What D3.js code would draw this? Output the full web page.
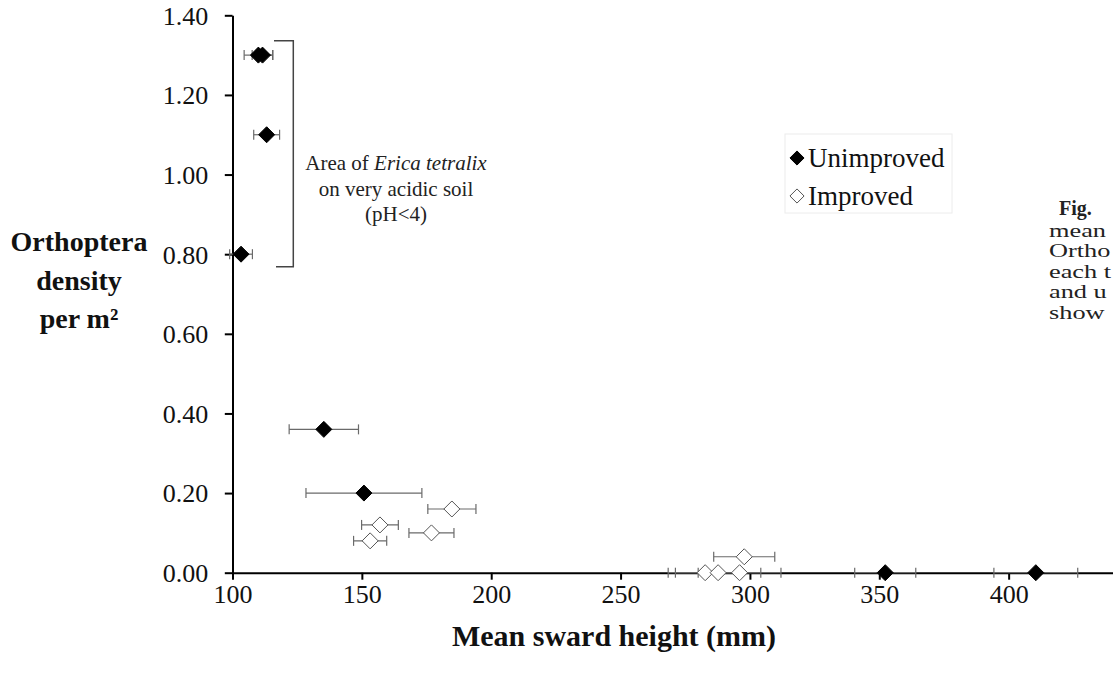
<!DOCTYPE html>
<html>
<head>
<meta charset="utf-8">
<script src="https://cdn.jsdelivr.net/npm/d3@7"></script>
<style>
  body { margin: 0; background: #fff; }
  svg { display: block; font-family: "Liberation Serif", "Times New Roman", serif; }
</style>
</head>
<body>
<div id="scatter"></div>
<script>
// Orthoptera density vs sward height
// ==================================
// Data
var unimpHeight = [110.0, 111.6, 113.2, 103.3, 135.3, 150.8, 352.3, 410.5];
var unimpDensity = [1.30, 1.30, 1.10, 0.80, 0.36, 0.20, 0.00, 0.00];
var unimpErr = [5.5, 4.0, 5.0, 4.4, 13.4, 22.4, 11.8, 16.2];

var impHeight = [184.8, 157.0, 176.9, 153.2, 297.8, 282.7, 287.7, 296.0];
var impDensity = [0.16, 0.12, 0.10, 0.08, 0.04, 0.00, 0.00, 0.00];
var impErr = [9.3, 7.1, 8.7, 6.4, 11.8, 14.3, 16.5, 16.0];

var xTicks = [100, 150, 200, 250, 300, 350, 400];
var yTicks = [0, 0.2, 0.4, 0.6, 0.8, 1.0, 1.2, 1.4];

var legendLabels = ["Unimproved", "Improved"];
var noteLines = ["on very acidic soil", "(pH<4)"];
var sideLines = ["mean", "Ortho", "each t", "and u", "show"];

// Housekeeping
// ============
var width = 1113;
var height = 678;

var svg = d3.select("#scatter")
    .append("svg")
    .attr("width", width)
    .attr("height", height);

// the axis runs on past the right edge of the picture
var x = d3.scaleLinear().domain([100, 450]).range([232.5, 1138]);
var y = d3.scaleLinear().domain([0, 1.4]).range([572.7, 15.3]);

// square turned on its corner, like the original markers
var diamond = {
    draw: function(context, size) {
        var r = Math.sqrt(size / 2);
        context.moveTo(0, -r);
        context.lineTo(r, 0);
        context.lineTo(0, r);
        context.lineTo(-r, 0);
        context.closePath();
    }
};
var marker = d3.symbol().type(diamond).size(128);

// Axes
// ====
var xAxis = svg.append("g")
    .attr("transform", "translate(0," + y(0) + ")")
    .call(d3.axisBottom(x).tickValues(xTicks).tickSize(7).tickSizeOuter(0).tickPadding(5));

var yAxis = svg.append("g")
    .attr("transform", "translate(" + x(100) + ",0)")
    .call(d3.axisLeft(y).tickValues(yTicks).tickSize(7.7).tickSizeOuter(0).tickPadding(16.5)
        .tickFormat(d3.format(".2f")));

[xAxis, yAxis].forEach(function(ax) {
    ax.select(".domain").attr("stroke", "#000").attr("stroke-width", 2);
    ax.selectAll(".tick line").attr("stroke", "#000").attr("stroke-width", 2);
    ax.selectAll(".tick text")
        .attr("font-family", "Liberation Serif, serif")
        .attr("font-size", 26)
        .attr("fill", "#111");
});
yAxis.selectAll(".tick text").attr("dy", "0.34em");

// Axis titles
svg.append("text")
    .attr("x", 614)
    .attr("y", 646)
    .attr("text-anchor", "middle")
    .attr("font-size", 30)
    .attr("font-weight", "bold")
    .attr("fill", "#111")
    .text("Mean sward height (mm)");

var yTitle = svg.append("text")
    .attr("text-anchor", "middle")
    .attr("font-size", 28)
    .attr("font-weight", "bold")
    .attr("fill", "#111");
["Orthoptera", "density", "per m²"].forEach(function(t, i) {
    yTitle.append("tspan").attr("x", 79).attr("y", 251 + i * 38.5).text(t);
});

// Error bars and points
// =====================
function drawSeries(xs, ys, es, filled) {
    var g = svg.append("g");
    var rows = xs.map(function(v, i) { return { x: v, y: ys[i], e: es[i] }; });

    var bars = g.selectAll(".err").data(rows).enter().append("g")
        .attr("stroke", "#6a6a6a")
        .attr("stroke-width", 1.2);
    bars.append("line")
        .attr("x1", function(d) { return x(d.x - d.e); })
        .attr("x2", function(d) { return x(d.x + d.e); })
        .attr("y1", function(d) { return y(d.y); })
        .attr("y2", function(d) { return y(d.y); });
    bars.append("line")
        .attr("x1", function(d) { return x(d.x - d.e); })
        .attr("x2", function(d) { return x(d.x - d.e); })
        .attr("y1", function(d) { return y(d.y) - 5; })
        .attr("y2", function(d) { return y(d.y) + 5; });
    bars.append("line")
        .attr("x1", function(d) { return x(d.x + d.e); })
        .attr("x2", function(d) { return x(d.x + d.e); })
        .attr("y1", function(d) { return y(d.y) - 5; })
        .attr("y2", function(d) { return y(d.y) + 5; });

    g.selectAll(".pt").data(rows).enter().append("path")
        .attr("d", marker)
        .attr("transform", function(d) { return "translate(" + x(d.x) + "," + y(d.y) + ")"; })
        .attr("fill", filled ? "#000" : "#fff")
        .attr("stroke", filled ? "#000" : "#555")
        .attr("stroke-width", 1);
}
drawSeries(impHeight, impDensity, impErr, false);
drawSeries(unimpHeight, unimpDensity, unimpErr, true);

// Annotation bracket
// ==================
svg.append("path")
    .attr("d", "M274,40.7H293.3V266.7H276")
    .attr("fill", "none")
    .attr("stroke", "#444")
    .attr("stroke-width", 1.5);

var note = svg.append("text")
    .attr("text-anchor", "middle")
    .attr("font-size", 21)
    .attr("fill", "#222");
var first = note.append("tspan").attr("x", 396).attr("y", 170);
first.append("tspan").text("Area of ");
first.append("tspan").attr("font-style", "italic").text("Erica tetralix");
noteLines.forEach(function(t, i) {
    note.append("tspan").attr("x", 396).attr("y", 196 + i * 25).text(t);
});

// Legend
// ======
svg.append("rect")
    .attr("x", 785).attr("y", 134)
    .attr("width", 167).attr("height", 79)
    .attr("fill", "#fff")
    .attr("stroke", "#ececec");

var legend = svg.selectAll(".leg").data(legendLabels).enter().append("g")
    .attr("transform", function(d, i) { return "translate(797," + (158 + i * 38) + ")"; });
legend.append("path")
    .attr("d", d3.symbol().type(diamond).size(100))
    .attr("fill", function(d, i) { return i === 0 ? "#000" : "#fff"; })
    .attr("stroke", function(d, i) { return i === 0 ? "#000" : "#555"; })
    .attr("stroke-width", 1);
legend.append("text")
    .attr("x", 11)
    .attr("y", 9)
    .attr("font-size", 27)
    .attr("fill", "#111")
    .text(function(d) { return d; });

// Caption text cut by the right edge
// ==================================
svg.append("text")
    .attr("x", 1059)
    .attr("y", 215)
    .attr("font-size", 20)
    .attr("font-weight", "bold")
    .attr("fill", "#222")
    .text("Fig.");
svg.selectAll(".side").data(sideLines).enter().append("text")
    .attr("transform", function(d, i) {
        return "translate(1049," + (236.7 + i * 20.5) + ") scale(1.35,1)";
    })
    .attr("font-size", 19.5)
    .attr("fill", "#222")
    .text(function(d) { return d; });
</script>
</body>
</html>
